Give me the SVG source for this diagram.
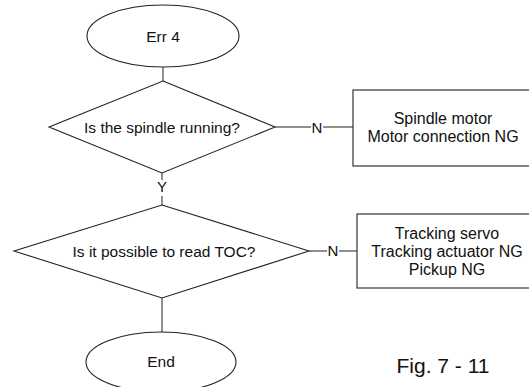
<svg xmlns="http://www.w3.org/2000/svg" width="529" height="387" viewBox="0 0 529 387">
<style>
.s{fill:#fff;stroke:#222;stroke-width:1.1}
.c{fill:none;stroke:#222;stroke-width:1}
text{font-family:"Liberation Sans",Arial,sans-serif;fill:#111;text-anchor:middle}
.t{font-size:15.5px}
.b{font-size:16px}
.n{font-size:15px}
</style>
<rect width="529" height="387" fill="#fff"/>
<g id="connectors">
<line class="c" x1="163" y1="67" x2="163" y2="81"/>
<line class="c" x1="162" y1="173" x2="162" y2="180"/>
<line class="c" x1="162" y1="196" x2="162" y2="205"/>
<line class="c" x1="162" y1="298" x2="162" y2="332"/>
<line class="c" x1="275" y1="127" x2="311" y2="127"/>
<line class="c" x1="323" y1="127" x2="353" y2="127"/>
<line class="c" x1="309" y1="251" x2="327" y2="251"/>
<line class="c" x1="339" y1="251" x2="357" y2="251"/>
<text class="n" x="317" y="132.5">N</text>
<text class="n" x="333" y="256">N</text>
<text class="n" x="162" y="192">Y</text>
</g>
<g id="start">
<ellipse class="s" cx="163" cy="36" rx="76" ry="31"/>
<text class="t" x="163" y="42">Err 4</text>
</g>
<g id="decision1">
<polygon class="s" points="163,81 275,127 162,173 49,127"/>
<text class="t" x="162" y="133">Is the spindle running?</text>
</g>
<g id="result1">
<rect class="s" x="353" y="90" width="190" height="76"/>
<text class="b" x="443" y="124">Spindle motor</text>
<text class="b" x="443" y="142">Motor connection NG</text>
</g>
<g id="decision2">
<polygon class="s" points="162,205 309,251 162,298 14,251"/>
<text class="t" x="164" y="257">Is it possible to read TOC?</text>
</g>
<g id="result2">
<rect class="s" x="357" y="214" width="190" height="74"/>
<text class="b" x="447" y="239">Tracking servo</text>
<text class="b" x="447" y="257">Tracking actuator NG</text>
<text class="b" x="447" y="275">Pickup NG</text>
</g>
<g id="end">
<ellipse class="s" cx="161" cy="362" rx="75" ry="30"/>
<text class="t" x="161" y="367">End</text>
</g>
<text x="443" y="373" style="font-size:21px">Fig. 7 - 11</text>
</svg>
